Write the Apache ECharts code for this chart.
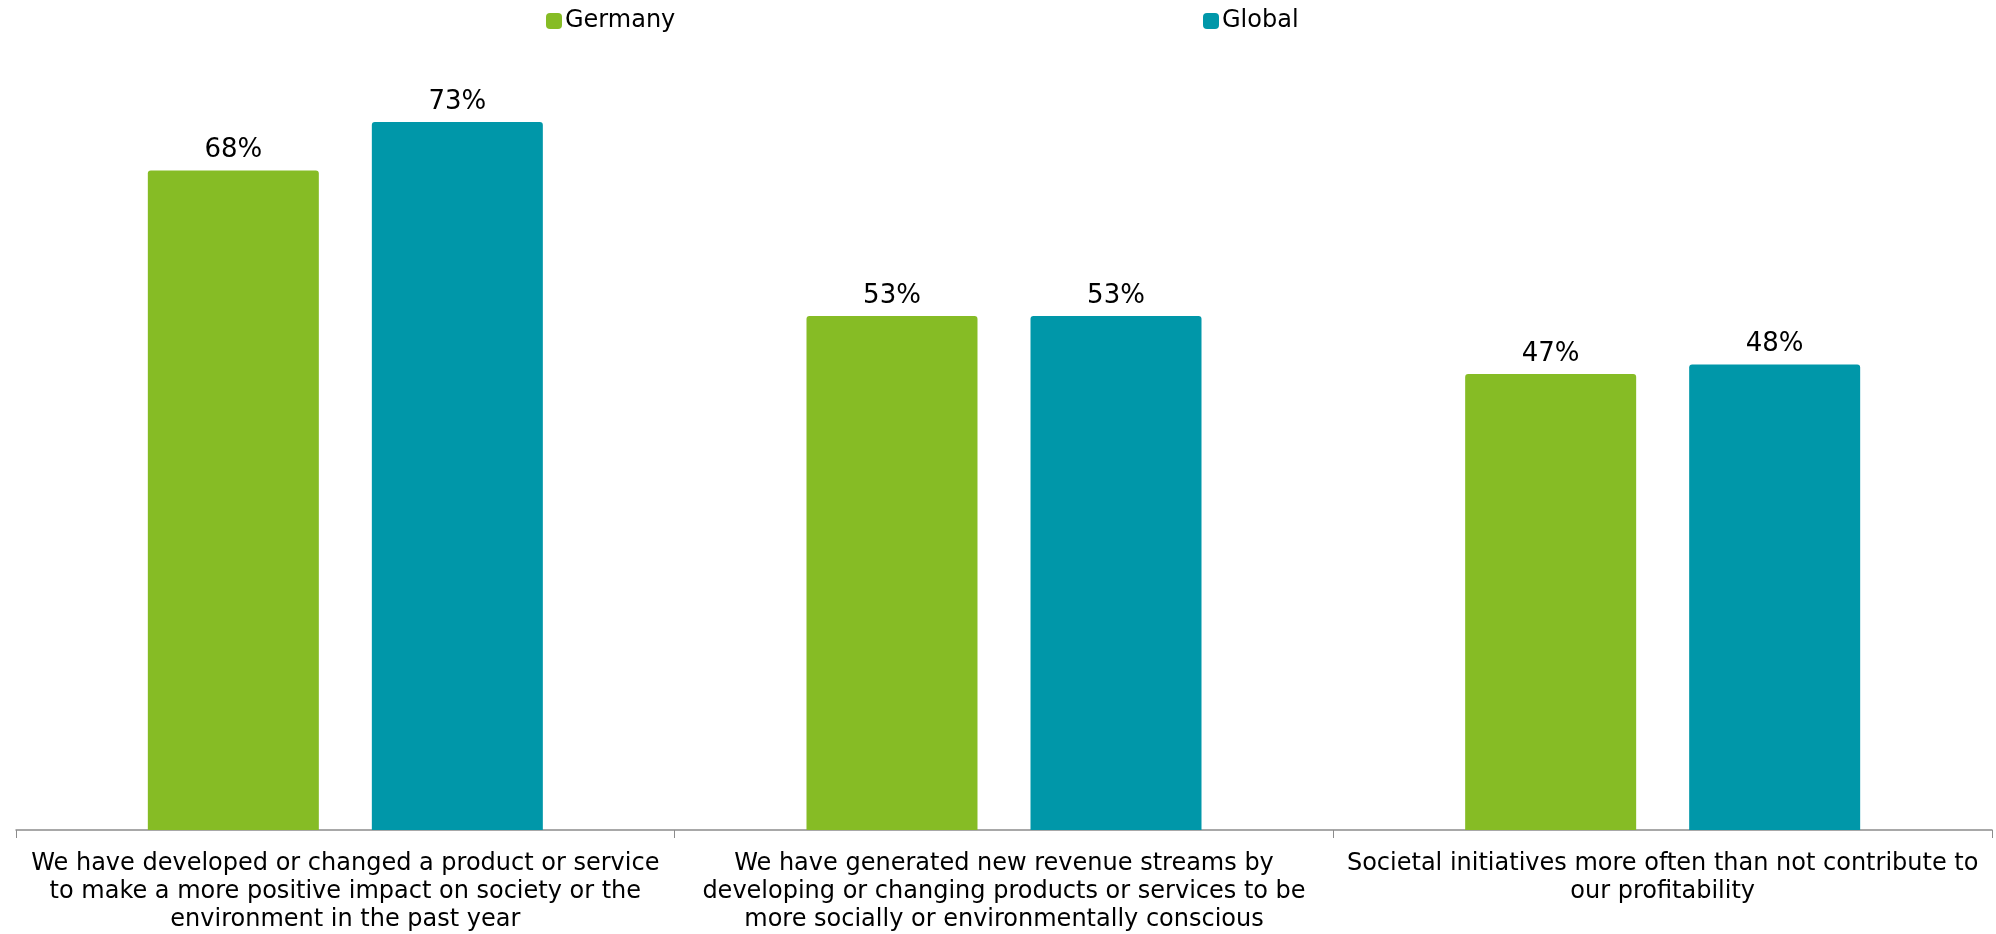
<!DOCTYPE html>
<html>
<head>
<meta charset="utf-8">
<script src="https://cdn.jsdelivr.net/npm/echarts@6/dist/echarts.min.js"></script>
<style>
  html, body { margin: 0; padding: 0; background: #fff; }
  #chart { width: 1996px; height: 934px; }
</style>
</head>
<body>
<div id="chart"></div>
<script>
// data
const categories = [
  'We have developed or changed a product or service\nto make a more positive impact on society or the\nenvironment in the past year',
  'We have generated new revenue streams by\ndeveloping or changing products or services to be\nmore socially or environmentally conscious',
  'Societal initiatives more often than not contribute to\nour profitability'
];
const germany = [68, 53, 47];
const global = [73, 53, 48];

const GREEN = '#86BC25';
const TEAL = '#0097A9';
const FONT = '"DejaVu Sans", Verdana, sans-serif';

const chart = echarts.init(document.getElementById('chart'));

const labelStyle = {
  show: true,
  position: 'top',
  distance: 7,
  formatter: '{c}%',
  color: '#000',
  fontSize: 26,
  fontFamily: FONT
};

const legendBase = {
  padding: 0, top: 9,
  icon: 'roundRect', itemWidth: 16, itemHeight: 16, itemGap: 0,
  textStyle: { fontSize: 24, color: '#000', padding: [0, 0, 0, -2] }
};

chart.setOption({
  animation: false,
  textStyle: { fontFamily: FONT },
  legend: [
    Object.assign({ data: ['Germany'], left: 546 }, legendBase),
    Object.assign({ data: ['Global'], left: 1203 }, legendBase)
  ],
  grid: { left: 16, right: 4, top: 54, bottom: 104, containLabel: false },
  xAxis: {
    type: 'category',
    data: categories,
    axisLine: { lineStyle: { color: '#8c8c8c', width: 1.5 } },
    axisTick: { show: true, length: 8, lineStyle: { color: '#8c8c8c' } },
    axisLabel: {
      interval: 0,
      margin: 20,
      color: '#000',
      fontSize: 24,
      lineHeight: 28,
      align: 'center'
    }
  },
  yAxis: {
    type: 'value',
    min: 0, max: 80,
    show: false,
    splitLine: { show: false }
  },
  series: [
    {
      name: 'Germany',
      type: 'bar',
      data: germany,
      barWidth: 171,
      barGap: '31%',
      itemStyle: { color: GREEN, borderRadius: [3, 3, 0, 0] },
      label: labelStyle
    },
    {
      name: 'Global',
      type: 'bar',
      data: global,
      barWidth: 171,
      itemStyle: { color: TEAL, borderRadius: [3, 3, 0, 0] },
      label: labelStyle
    }
  ]
});
</script>
</body>
</html>
